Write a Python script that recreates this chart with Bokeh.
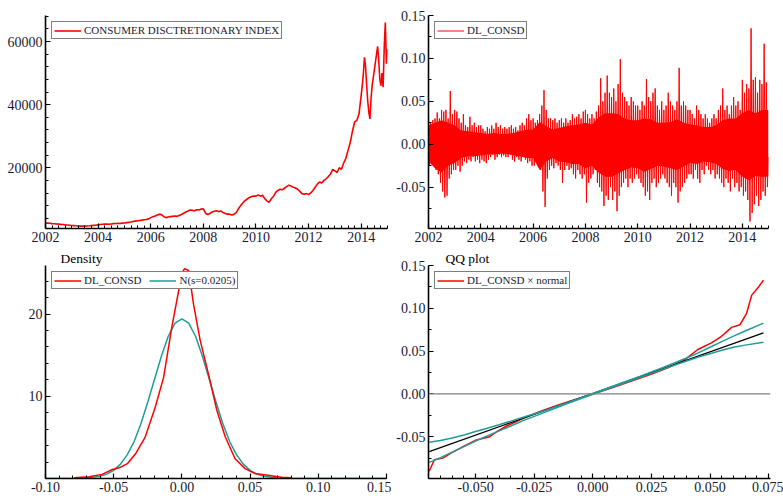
from bokeh.plotting import figure
from bokeh.layouts import column, row
from bokeh.models import (Range1d, FixedTicker, Legend, LegendItem, Title,
                          NumeralTickFormatter, Span)
from bokeh.embed import file_html
from bokeh.resources import INLINE

# ---------------- data ----------------
# Consumer discretionary index, monthly values 2002-2013
idx_2002 = [2500, 2450, 2400, 2300, 2250, 2200, 2150, 2050, 2000, 1900, 1850, 1800]
idx_2003 = [1700, 1650, 1600, 1550, 1500, 1550, 1500, 1550, 1600, 1700, 1750, 1800]
idx_2004 = [1900, 2000, 2100, 2200, 2150, 2100, 2200, 2300, 2350, 2400, 2350, 2450]
idx_2005 = [2500, 2600, 2700, 2800, 3000, 3100, 3200, 3300, 3400, 3500, 3600, 3800]
idx_2006 = [4200, 4500, 4700, 5000, 5300, 5100, 4500, 4200, 4400, 4500, 4600, 4700]
idx_2007 = [4600, 4900, 5200, 5600, 6000, 6300, 6600, 6500, 6400, 6700, 6600, 6900]
idx_2008 = [7000, 5600, 5200, 5500, 6000, 6200, 6400, 6100, 6300, 5800, 5500, 5300]
idx_2009 = [5300, 5000, 5300, 5800, 7000, 8000, 8800, 9600, 10100, 10600, 10900, 11000]
idx_2010 = [11000, 11400, 11000, 11300, 10200, 9500, 9000, 10200, 11000, 12200, 12800, 13200]
idx_2011 = [13000, 13500, 14000, 14500, 14200, 13800, 13600, 13200, 12500, 11800, 11600, 11800]
idx_2012 = [11500, 12000, 12800, 13800, 14800, 15500, 15200, 16000, 16500, 17200, 18000, 19500]
idx_2013 = [19000, 18500, 20000, 19500, 21500, 23000, 25500, 28000, 31500, 34500, 35000, 37000]
# 2014, half-monthly values, and the last value (start of 2015)
idx_2014_half = [43000, 46000, 50000, 55000, 52000, 46000, 41000, 37500, 35500, 42000, 46000, 48500,
                 51000, 53500, 56000, 58500, 54000, 48000, 46000, 50000, 45500, 58000, 66000, 53000]
idx_last = 57500

# DL_CONSD daily log returns: monthly upper / lower envelope of the spikes
ret_hi = {
    2002: [0.035, 0.025, 0.028, 0.030, 0.037, 0.030, 0.040, 0.038, 0.040, 0.030, 0.062, 0.035],
    2003: [0.040, 0.038, 0.030, 0.025, 0.035, 0.022, 0.020, 0.032, 0.022, 0.025, 0.020, 0.022],
    2004: [0.022, 0.018, 0.015, 0.020, 0.018, 0.022, 0.018, 0.025, 0.020, 0.022, 0.018, 0.020],
    2005: [0.018, 0.020, 0.022, 0.018, 0.020, 0.016, 0.022, 0.025, 0.022, 0.030, 0.035, 0.028],
    2006: [0.030, 0.025, 0.028, 0.035, 0.045, 0.063, 0.040, 0.030, 0.030, 0.028, 0.030, 0.025],
    2007: [0.028, 0.030, 0.025, 0.030, 0.025, 0.028, 0.035, 0.030, 0.032, 0.035, 0.030, 0.038],
    2008: [0.040, 0.035, 0.030, 0.035, 0.030, 0.038, 0.045, 0.077, 0.050, 0.060, 0.080, 0.060],
    2009: [0.055, 0.065, 0.050, 0.070, 0.099, 0.060, 0.055, 0.050, 0.045, 0.055, 0.050, 0.045],
    2010: [0.045, 0.040, 0.050, 0.045, 0.076, 0.055, 0.050, 0.060, 0.065, 0.045, 0.040, 0.050],
    2011: [0.040, 0.045, 0.060, 0.050, 0.045, 0.040, 0.050, 0.089, 0.045, 0.050, 0.045, 0.040],
    2012: [0.040, 0.035, 0.030, 0.045, 0.040, 0.035, 0.030, 0.035, 0.030, 0.025, 0.030, 0.035],
    2013: [0.030, 0.040, 0.045, 0.065, 0.040, 0.045, 0.035, 0.045, 0.055, 0.045, 0.050, 0.040],
    2014: [0.075, 0.060, 0.070, 0.065, 0.135, 0.075, 0.078, 0.060, 0.075, 0.070, 0.117, 0.072],
}
ret_lo = {
    2002: [-0.025, -0.020, -0.025, -0.030, -0.035, -0.045, -0.055, -0.062, -0.060, -0.040, -0.035, -0.030],
    2003: [-0.030, -0.025, -0.032, -0.025, -0.020, -0.022, -0.018, -0.020, -0.015, -0.020, -0.018, -0.022],
    2004: [-0.018, -0.020, -0.022, -0.018, -0.015, -0.012, -0.018, -0.015, -0.012, -0.015, -0.013, -0.015],
    2005: [-0.015, -0.012, -0.018, -0.020, -0.015, -0.018, -0.020, -0.015, -0.018, -0.022, -0.020, -0.025],
    2006: [-0.025, -0.020, -0.022, -0.030, -0.055, -0.073, -0.040, -0.030, -0.025, -0.028, -0.022, -0.025],
    2007: [-0.030, -0.045, -0.030, -0.025, -0.030, -0.028, -0.035, -0.040, -0.030, -0.035, -0.040, -0.035],
    2008: [-0.068, -0.045, -0.040, -0.035, -0.030, -0.045, -0.050, -0.055, -0.072, -0.060, -0.065, -0.050],
    2009: [-0.065, -0.055, -0.078, -0.060, -0.050, -0.045, -0.040, -0.050, -0.040, -0.045, -0.040, -0.035],
    2010: [-0.040, -0.045, -0.050, -0.060, -0.055, -0.065, -0.045, -0.040, -0.050, -0.045, -0.040, -0.035],
    2011: [-0.040, -0.045, -0.050, -0.060, -0.045, -0.050, -0.068, -0.055, -0.050, -0.045, -0.040, -0.035],
    2012: [-0.035, -0.040, -0.030, -0.040, -0.045, -0.030, -0.035, -0.025, -0.030, -0.035, -0.030, -0.040],
    2013: [-0.035, -0.040, -0.045, -0.050, -0.040, -0.045, -0.055, -0.040, -0.050, -0.045, -0.055, -0.050],
    2014: [-0.060, -0.055, -0.065, -0.090, -0.080, -0.070, -0.060, -0.072, -0.065, -0.055, -0.060, -0.050],
}
ret_last = -0.015
# dense core of the daily returns (quarterly upper / lower edge of the solid band)
core_hi = {
    2002: [0.022, 0.025, 0.028, 0.025], 2003: [0.022, 0.016, 0.015, 0.014],
    2004: [0.013, 0.012, 0.013, 0.012], 2005: [0.012, 0.013, 0.015, 0.017],
    2006: [0.017, 0.026, 0.021, 0.017], 2007: [0.019, 0.021, 0.022, 0.023],
    2008: [0.025, 0.023, 0.031, 0.036], 2009: [0.036, 0.035, 0.030, 0.028],
    2010: [0.028, 0.030, 0.029, 0.025], 2011: [0.025, 0.026, 0.029, 0.025],
    2012: [0.023, 0.022, 0.020, 0.020], 2013: [0.022, 0.028, 0.030, 0.030],
    2014: [0.036, 0.040, 0.036, 0.040],
}
core_lo = {
    2002: [-0.020, -0.028, -0.033, -0.025], 2003: [-0.022, -0.016, -0.014, -0.014],
    2004: [-0.013, -0.012, -0.012, -0.011], 2005: [-0.011, -0.013, -0.014, -0.016],
    2006: [-0.016, -0.030, -0.020, -0.016], 2007: [-0.020, -0.021, -0.023, -0.023],
    2008: [-0.028, -0.025, -0.033, -0.038], 2009: [-0.038, -0.034, -0.030, -0.027],
    2010: [-0.028, -0.032, -0.029, -0.025], 2011: [-0.026, -0.028, -0.030, -0.026],
    2012: [-0.022, -0.023, -0.020, -0.021], 2013: [-0.023, -0.029, -0.031, -0.030],
    2014: [-0.038, -0.042, -0.037, -0.038],
}

# Density: kernel density of DL_CONSD and the normal N(s=0.0205)
dens_x = [-0.079, -0.068, -0.0585, -0.051, -0.046, -0.040, -0.034, -0.027, -0.0195, -0.0134,
          -0.0073, -0.0024, 0.000, 0.002, 0.005, 0.0085, 0.0134, 0.0195, 0.0256, 0.0317,
          0.039, 0.0463, 0.0537, 0.063, 0.073, 0.0805]
dens_y = [0.1, 0.2, 0.5, 1.1, 1.3, 1.8, 3.0, 5.0, 8.7, 12.3,
          18.5, 22.8, 25.0, 25.5, 25.3, 21.2, 16.8, 12.7, 8.3, 5.1,
          2.4, 1.2, 0.6, 0.4, 0.16, 0.08]
norm_x = [-0.10, -0.08, -0.07, -0.06, -0.055, -0.05, -0.045, -0.04, -0.035, -0.03, -0.025,
          -0.02, -0.015, -0.01, -0.005, 0.0, 0.005, 0.01, 0.015, 0.02, 0.025, 0.03, 0.035,
          0.04, 0.045, 0.05, 0.055, 0.06, 0.07, 0.08, 0.10, 0.15]
norm_y = [0.0, 0.01, 0.06, 0.27, 0.53, 0.99, 1.75, 2.9, 4.5, 6.7, 9.3,
          12.1, 14.9, 17.3, 18.9, 19.4, 18.9, 17.3, 14.9, 12.1, 9.3, 6.7, 4.5,
          2.9, 1.75, 0.99, 0.53, 0.27, 0.06, 0.01, 0.0, 0.0]

# QQ plot
qq_x = [-0.0698, -0.0676, -0.064, -0.0605, -0.0554, -0.0497, -0.044, -0.041, -0.0368, -0.0297,
        -0.0225, -0.0153, -0.0082, 0.0, 0.0076, 0.0162, 0.0248, 0.032, 0.039, 0.0448,
        0.0506, 0.0549, 0.0592, 0.0628, 0.0656, 0.0678, 0.0707, 0.0728]
qq_y = [-0.0904, -0.0769, -0.075, -0.0692, -0.0615, -0.0538, -0.050, -0.0442, -0.0375, -0.0285,
        -0.0205, -0.0135, -0.0072, 0.0, 0.0066, 0.0147, 0.0228, 0.0305, 0.0395, 0.0519,
        0.0596, 0.0673, 0.0777, 0.0808, 0.0942, 0.1154, 0.125, 0.1327]
band_x = [-0.0698, -0.065, -0.06, -0.055, -0.05, -0.045, -0.04, -0.035, -0.03, -0.02, -0.01,
          0.0, 0.01, 0.02, 0.03, 0.04, 0.045, 0.05, 0.055, 0.06, 0.065, 0.0728]
band_hi = [-0.0565, -0.0545, -0.0515, -0.0480, -0.0440, -0.0400, -0.0360, -0.0318, -0.0275, -0.0190,
           -0.0095, 0.0005, 0.0105, 0.0205, 0.0310, 0.0420, 0.0480, 0.0545, 0.0610, 0.0675, 0.0735, 0.0827]
band_lo = [-0.0800, -0.0745, -0.0680, -0.0615, -0.0550, -0.0490, -0.0432, -0.0375, -0.0315, -0.0210,
           -0.0105, -0.0005, 0.0095, 0.0190, 0.0290, 0.0385, 0.0430, 0.0470, 0.0510, 0.0545, 0.0570, 0.0604]
ref_x = [-0.0698, 0.0728]
ref_y = [-0.0673, 0.0712]

year_ticks = [2002, 2004, 2006, 2008, 2010, 2012, 2014]

# ---------------- build series ----------------
idx_years = [idx_2002, idx_2003, idx_2004, idx_2005, idx_2006, idx_2007, idx_2008,
             idx_2009, idx_2010, idx_2011, idx_2012, idx_2013]
idx_t, idx_v = [], []
for k, vals in enumerate(idx_years):
    for m, v in enumerate(vals):
        idx_t.append(2002 + k + m / 12.0)
        idx_v.append(v)
for j, v in enumerate(idx_2014_half):
    idx_t.append(2014 + j / 24.0)
    idx_v.append(v)
idx_t.append(2015.0)
idx_v.append(idx_last)

ret_t, ret_v = [], []
for yr in sorted(ret_hi):
    for m in range(12):
        ret_t.append(yr + m / 12.0)
        ret_v.append(ret_hi[yr][m])
        ret_t.append(yr + (m + 0.5) / 12.0)
        ret_v.append(ret_lo[yr][m])
ret_t.append(2015.0)
ret_v.append(ret_last)

core_t, core_u, core_d = [], [], []
for yr in sorted(core_hi):
    for q in range(4):
        core_t.append(yr + q / 4.0)
        core_u.append(core_hi[yr][q])
        core_d.append(core_lo[yr][q])
core_t.append(2015.0)
core_u.append(core_hi[2014][-1])
core_d.append(core_lo[2014][-1])

RED = "#ff0000"
TEAL = "#1f9c98"
FONT = "Liberation Serif"
TXT = "#1a1a33"


def make_fig(w, h, xr, yr, left, right, top, bottom):
    p = figure(width=w, height=h, x_range=Range1d(*xr), y_range=Range1d(*yr),
               output_backend="svg", toolbar_location=None,
               min_border_left=left, min_border_right=right,
               min_border_top=top, min_border_bottom=bottom)
    p.outline_line_color = None
    p.xgrid.visible = False
    p.ygrid.visible = False
    p.background_fill_color = "white"
    for ax in (p.xaxis[0], p.yaxis[0]):
        ax.axis_line_width = 1.6
        ax.axis_line_color = "black"
        ax.major_tick_in = 5
        ax.major_tick_out = 0
        ax.minor_tick_in = 3
        ax.minor_tick_out = 0
        ax.major_tick_line_width = 1.2
        ax.minor_tick_line_width = 1
        ax.major_tick_line_color = "black"
        ax.minor_tick_line_color = "black"
        ax.major_label_text_font = FONT
        ax.major_label_text_font_size = "14px"
        ax.major_label_text_color = TXT
        ax.major_label_standoff = 3
    return p


def add_legend(p, items):
    leg = Legend(items=items, location="top_left", orientation="horizontal",
                 border_line_color="black", border_line_width=1.6,
                 label_text_font=FONT, label_text_font_size="11px",
                 label_text_color=TXT,
                 glyph_width=27, glyph_height=11, label_height=11,
                 label_standoff=3, padding=2, spacing=8, margin=6,
                 background_fill_color="white", background_fill_alpha=1)
    p.add_layout(leg)


def frange(a, b, step):
    n = int(round((b - a) / step))
    return [a + i * step for i in range(n + 1)]


# ---------------- panel 1: index level ----------------
p1 = make_fig(391, 248, (2002, 2015), (750, 68250), 45, 4, 13, 20)
r1 = p1.line(idx_t, idx_v, line_color=RED, line_width=1.6)
p1.xaxis.ticker = FixedTicker(ticks=year_ticks, minor_ticks=frange(2002, 2015, 0.25))
p1.yaxis.ticker = FixedTicker(ticks=[20000, 40000, 60000], minor_ticks=frange(4000, 68000, 4000))
p1.yaxis.formatter = NumeralTickFormatter(format="0")
add_legend(p1, [LegendItem(label="CONSUMER DISCTRETIONARY INDEX", renderers=[r1])])

# ---------------- panel 2: returns ----------------
p2 = make_fig(392, 248, (2002, 2015), (-0.0982, 0.15), 37, 15, 15, 20)
p2.varea(x=core_t, y1=core_d, y2=core_u, fill_color=RED)
r2 = p2.line(ret_t, ret_v, line_color=RED, line_width=1)
p2.xaxis.ticker = FixedTicker(ticks=year_ticks, minor_ticks=frange(2002, 2015, 0.25))
p2.yaxis.ticker = FixedTicker(ticks=[-0.05, 0.0, 0.05, 0.10, 0.15], minor_ticks=frange(-0.075, 0.15, 0.025))
p2.yaxis.formatter = NumeralTickFormatter(format="0.00")
add_legend(p2, [LegendItem(label="DL_CONSD", renderers=[r2])])

# ---------------- panel 3: density ----------------
p3 = make_fig(391, 248, (-0.10, 0.15), (0, 25.9), 45, 5, 15, 18)
t3 = Title(text="Density", align="left", offset=15, text_font=FONT, text_font_size="13.5px",
           text_font_style="normal", text_color="black", standoff=0)
p3.add_layout(t3, "above")
rn = p3.line(norm_x, norm_y, line_color=TEAL, line_width=1.5)
rd = p3.line(dens_x, dens_y, line_color=RED, line_width=1.5)
p3.xaxis.ticker = FixedTicker(ticks=[-0.10, -0.05, 0.0, 0.05, 0.10, 0.15], minor_ticks=frange(-0.10, 0.15, 0.01))
p3.xaxis.formatter = NumeralTickFormatter(format="0.00")
p3.yaxis.ticker = FixedTicker(ticks=[10, 20], minor_ticks=frange(2, 24, 2))
p3.yaxis.formatter = NumeralTickFormatter(format="0")
add_legend(p3, [LegendItem(label="DL_CONSD", renderers=[rd]),
                LegendItem(label="N(s=0.0205)", renderers=[rn])])

# ---------------- panel 4: QQ plot ----------------
p4 = make_fig(392, 248, (-0.0701, 0.0758), (-0.0988, 0.15), 37, 13, 16, 18)
t4 = Title(text="QQ plot", align="left", offset=17, text_font=FONT, text_font_size="13.5px",
           text_font_style="normal", text_color="black", standoff=0)
p4.add_layout(t4, "above")
p4.add_layout(Span(location=0, dimension="width", line_color="#808080", line_width=1.2))
rq = p4.line(qq_x, qq_y, line_color=RED, line_width=1.5)
p4.line(ref_x, ref_y, line_color="black", line_width=1.3)
p4.line(band_x, band_hi, line_color=TEAL, line_width=1.5)
p4.line(band_x, band_lo, line_color=TEAL, line_width=1.5)
p4.xaxis.ticker = FixedTicker(ticks=[-0.05, -0.025, 0.0, 0.025, 0.05, 0.075],
                              minor_ticks=frange(-0.07, 0.075, 0.005))
p4.xaxis.formatter = NumeralTickFormatter(format="0.000")
p4.yaxis.ticker = FixedTicker(ticks=[-0.05, 0.0, 0.05, 0.10, 0.15], minor_ticks=frange(-0.075, 0.15, 0.025))
p4.yaxis.formatter = NumeralTickFormatter(format="0.00")
add_legend(p4, [LegendItem(label="DL_CONSD \u00d7 normal", renderers=[rq])])

layout = column(row(p1, p2), row(p3, p4))
open("out.html", "w").write(file_html(layout, INLINE))
